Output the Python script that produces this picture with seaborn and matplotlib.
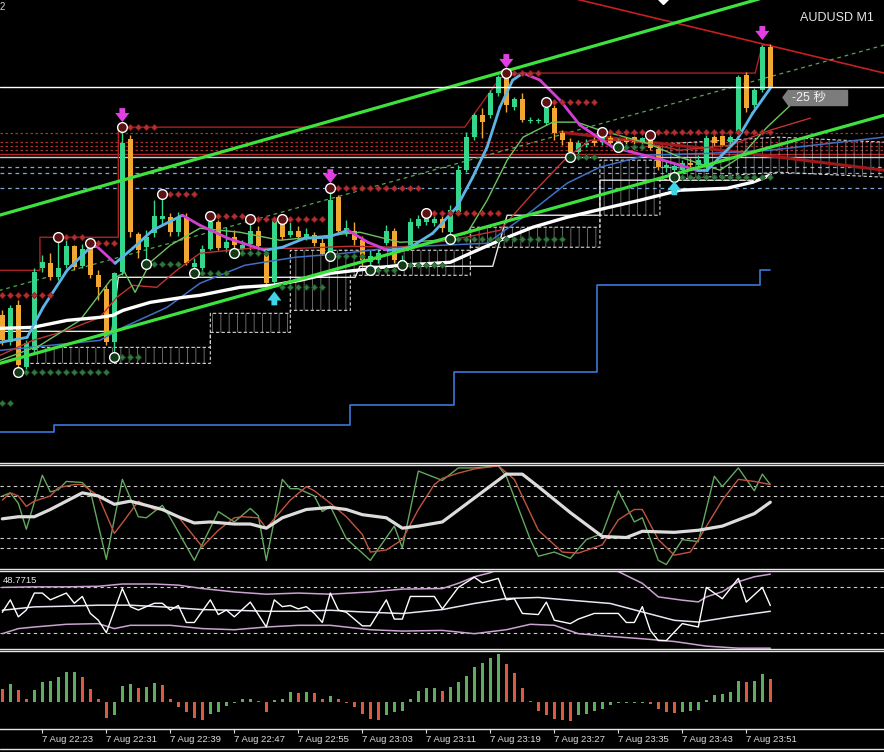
import numpy as np
import matplotlib
matplotlib.use("Agg")
import matplotlib.pyplot as plt
from matplotlib.patches import Rectangle, Polygon
from matplotlib.lines import Line2D
import seaborn as sns

# prices are kept in points (1e-5) above this base
PRICE_BASE = 0.92
POINT = 1e-5

# bars: minutes after 7 Aug 22:15
bar_minute = list(range(3, 100))

open_pts = [147, 120, 157, 95, 112, 194, 199, 185, 197, 216,
            196, 215, 187, 173, 120, 190, 323, 228, 215, 229,
            243, 245, 230, 245, 195, 194, 213, 240, 214, 225,
            213, 218, 231, 209, 180, 240, 227, 231, 225, 227,
            219, 209, 265, 229, 231, 222, 200, 202, 219, 231,
            199, 215, 236, 240, 239, 243, 230, 250, 292, 325,
            347, 347, 369, 385, 355, 363, 341, 341, 339, 354,
            329, 320, 310, 317, 321, 320, 324, 317, 322, 325,
            319, 322, 313, 294, 292, 292, 299, 297, 295, 325,
            326, 320, 329, 387, 357, 372, 415]
high_pts = [152, 157, 162, 122, 194, 207, 209, 225, 222, 217,
            218, 219, 192, 177, 190, 335, 327, 230, 232, 262,
            268, 249, 250, 249, 204, 217, 246, 242, 235, 232,
            222, 243, 236, 214, 242, 243, 240, 236, 234, 230,
            224, 274, 267, 242, 240, 226, 212, 212, 237, 234,
            207, 244, 247, 249, 247, 247, 257, 297, 330, 349,
            354, 372, 387, 389, 365, 369, 345, 344, 360, 357,
            332, 324, 322, 323, 325, 330, 327, 324, 325, 326,
            325, 327, 317, 302, 299, 302, 304, 307, 327, 332,
            332, 330, 387, 390, 374, 417, 418]
low_pts = [117, 117, 90, 92, 110, 190, 182, 182, 194, 192,
           194, 184, 162, 117, 105, 187, 225, 204, 198, 225,
           237, 226, 226, 197, 189, 190, 212, 212, 210, 209,
           210, 212, 212, 177, 175, 222, 225, 222, 222, 216,
           207, 206, 227, 226, 217, 197, 192, 199, 217, 199,
           197, 212, 234, 237, 236, 230, 223, 248, 290, 322,
           324, 344, 366, 350, 352, 340, 339, 339, 337, 322,
           317, 305, 308, 315, 316, 317, 316, 315, 317, 318,
           317, 312, 292, 290, 285, 290, 294, 295, 292, 316,
           316, 317, 327, 350, 354, 370, 374]
close_pts = [122, 154, 97, 119, 190, 200, 185, 194, 216, 195,
             213, 187, 175, 120, 189, 319, 230, 212, 225, 246,
             246, 230, 245, 199, 199, 213, 240, 214, 220, 217,
             217, 231, 216, 179, 242, 225, 231, 225, 228, 219,
             208, 262, 231, 234, 222, 202, 206, 209, 231, 202,
             202, 240, 243, 244, 243, 234, 252, 292, 325, 347,
             340, 369, 385, 357, 363, 342, 341, 342, 354, 329,
             322, 310, 319, 319, 319, 324, 319, 321, 320, 320,
             324, 314, 295, 297, 296, 299, 297, 302, 324, 319,
             317, 325, 385, 354, 372, 415, 375]

# fractals, arrows and support / resistance dot rows
high_fractal_m = [10, 14, 18, 23, 29, 34, 38, 44, 56, 66, 71, 78, 84]
low_fractal_m = [5, 17, 21, 27, 32, 44, 49, 53, 59, 74, 80, 87]
sell_arrow_m = [18, 44, 66, 98]
buy_arrow_m = [37, 87]
red_row_start = [3, 11, 15, 19, 24, 30, 35, 39, 45, 57, 67, 72, 79]
red_row_end = [9, 13, 17, 22, 27, 33, 37, 43, 55, 65, 70, 77, 99]
red_row_level = [167, 225, 219, 335, 268, 246, 243, 243, 274, 249, 389, 360, 330]
green_row_start = [3, 6, 18, 22, 28, 33, 38, 45, 50, 54, 60, 75, 81, 88]
green_row_end = [4, 16, 20, 25, 31, 36, 43, 48, 52, 58, 73, 77, 83, 99]
green_row_level = [59, 90, 105, 198, 189, 209, 175, 206, 192, 197, 223, 305, 315, 285]

# moving averages (minute, points)
fast_ma_m = [2.7, 6.1, 8.1, 11.1, 14, 14.8, 17.1, 19.3, 21.8, 25.5, 27.7, 31.2, 35.8,
             38, 40.8, 43.7, 46.2, 48.7, 51.2, 52.7, 54, 56.8, 59.8, 61.8, 63.6, 65.2,
             66.8, 68.1, 70.2, 72.7, 75.2, 79.3, 85.6, 89.8, 91.1, 94.8, 96.8, 99.1]
fast_ma = [120, 125, 155, 192, 215, 216, 199, 214, 232, 247, 237, 224, 212,
           215, 224, 225, 232, 220, 212, 213, 215, 229, 255, 285, 315, 355,
           382, 389, 382, 362, 337, 315, 302, 292, 292, 322, 349, 375]
slow_ma_m = [2.7, 6.8, 11.1, 15.2, 16.8, 18.1, 21.5, 25.6, 27.7, 32.7, 36.8, 40.2, 44,
             52.7, 59, 61.8, 65.2, 69.3, 73.6, 77.3, 82.7, 87.7, 93.6, 96.8, 99]
slow_ma = [134, 135, 142, 145, 147, 152, 160, 165, 167, 175, 177, 182, 189,
           197, 200, 210, 222, 235, 245, 252, 262, 272, 274, 280, 287]
jaw_m = [2.7, 15.2, 18.1, 23.6, 27.7, 33.3, 39.6, 45.8, 52.1, 63.6, 69.3, 73.6, 77.7,
         83.6, 91.8, 99, 113.2]
jaw = [112, 122, 135, 155, 179, 197, 205, 209, 215, 219, 252, 279, 295, 307, 309, 312, 325]
teeth_m = [2.7, 6.8, 11.1, 15.2, 17.3, 19.3, 22.3, 24.8, 27.7, 34, 40.2, 46.5, 52.7, 59,
           65.2, 69.3, 73.6, 76.5, 81.5, 87.7, 94, 99, 104]
teeth = [107, 122, 132, 145, 165, 177, 175, 192, 209, 214, 214, 216, 215, 222,
         232, 269, 305, 322, 322, 312, 317, 332, 344]
lips_m = [2.7, 7.7, 12.7, 16.5, 18.3, 19.6, 21.5, 24, 27.7, 32.7, 37.7, 44, 47.7, 52.7,
          57.7, 61.1, 63.6, 66.1, 68.1, 71.8, 74.8, 77.7, 83.6, 87.7, 92.7, 95.2, 98.6, 101.8]
lips = [102, 117, 142, 182, 190, 170, 200, 217, 234, 230, 222, 227, 230, 220,
        222, 229, 262, 302, 325, 340, 340, 332, 319, 305, 292, 305, 335, 359]
trend_red_m = [72.7, 96.1, 113.2]
trend_red = [330, 309, 292]

# step lines and cloud
kijun_m = [2.7, 16.7, 17.5, 47.1, 47.7, 64.3, 66.1, 77.7, 77.7, 97.1]
kijun = [131, 131, 185, 185, 196, 196, 247, 247, 282, 282]
cloud_m = [6.5, 29, 29, 39, 39, 46.5, 46.5, 61.5, 61.5, 77.7, 77.7, 85.2, 85.2, 100, 113.2]
cloud_a = [115, 115, 149, 149, 212, 212, 212, 212, 235, 235, 302, 302, 318, 325, 320]
cloud_b = [99, 99, 130, 130, 152, 152, 187, 187, 215, 215, 247, 247, 282, 290, 285]
low_band_m = [2.7, 9.5, 9.5, 46.5, 46.5, 59.5, 59.5, 77.3, 77.3, 97.7, 97.7, 99]
low_band = [30, 30, 37, 37, 57, 57, 90, 90, 177, 177, 192, 192]
high_band_m = [2.7, 7.7, 7.7, 17.5, 17.5, 60.8, 65.2, 67.7, 97.1, 98, 99]
high_band = [192, 192, 225, 225, 335, 335, 384, 389, 389, 417, 417]

# straight lines
line_m = [0, 120]
channel_upper = [241, 514]
channel_lower = [93, 362]
dashed_diag = [166, 432]
red_diag_m = [70, 120]
red_diag = [472, 376]
red_levels = [329, 320, 316, 312]
red_solid_level = 308
grey_solid_level = 305
blue_levels = [295, 289, 274]

# stochastic panel
stoch_k_m = [3, 4, 5, 6, 8, 9, 10, 11, 13, 14, 16, 18, 20, 21, 23, 24, 27, 30, 32, 34, 35,
             36, 38, 39, 40, 42, 43, 44, 46, 49, 52, 53, 55, 58, 60, 62, 65, 66, 69, 70,
             72, 74, 76, 78, 80, 82, 83, 85, 86, 88, 90, 92, 93, 95, 97, 98, 99]
stoch_k = [70, 73, 63, 38, 90, 74, 76, 84, 83, 75, 9, 86, 50, 49, 61, 49, 8, 55, 45, 58, 51,
           8, 86, 77, 77, 70, 55, 60, 29, 8, 41, 20, 94, 85, 97, 97, 99, 89, 28, 12,
           16, 10, 28, 34, 75, 45, 49, 8, 4, 28, 26, 89, 79, 97, 75, 91, 81]
stoch_d_m = [3, 4, 5, 6, 7, 9, 10, 12, 13, 15, 17, 18, 20, 22, 23, 25, 28, 30, 32, 33, 35,
             36, 39, 41, 42, 44, 46, 48, 49, 51, 53, 55, 57, 58, 60, 62, 65, 67, 70, 73,
             75, 78, 80, 82, 83, 85, 87, 89, 90, 93, 95, 97, 99]
stoch_d = [66, 73, 70, 60, 65, 70, 78, 81, 81, 70, 34, 44, 65, 57, 57, 50, 21, 37, 49, 50, 49,
           39, 66, 79, 75, 63, 50, 33, 16, 18, 28, 57, 81, 87, 92, 96, 99, 86, 37, 16,
           15, 23, 47, 57, 57, 28, 13, 16, 28, 66, 86, 84, 81]
stoch_slow_m = [3, 5, 7, 9, 11, 13, 15, 17, 19, 20, 23, 25, 27, 29, 32, 34, 36, 38, 41, 44,
                46, 48, 51, 53, 55, 58, 62, 66, 68, 70, 74, 78, 81, 83, 87, 90, 93, 97, 99]
stoch_slow = [48, 50, 50, 57, 65, 73, 70, 62, 65, 63, 57, 50, 44, 45, 43, 43, 39, 49, 57, 59,
              57, 52, 49, 39, 41, 45, 68, 91, 91, 79, 54, 31, 30, 36, 35, 37, 41, 53, 64]
stoch_levels = [80, 70, 30, 20]

# RSI panel
rsi_m = [3, 4, 5, 6, 7, 8, 9, 11, 12, 13, 14, 15, 16, 18, 19, 20, 22, 23, 24, 25, 26, 27,
         29, 30, 31, 32, 34, 36, 37, 38, 39, 40, 41, 42, 43, 44, 45, 46, 48, 49, 51, 52,
         53, 54, 57, 58, 60, 62, 63, 65, 66, 67, 68, 70, 71, 72, 74, 75, 77, 80, 81, 82,
         83, 84, 85, 86, 88, 90, 91, 93, 95, 96, 98, 99]
rsi = [48, 59, 44, 50, 65, 65, 59, 65, 56, 62, 47, 41, 30, 69, 53, 50, 56, 56, 50, 54, 39, 39,
       59, 46, 50, 44, 57, 35, 59, 53, 54, 51, 53, 47, 39, 65, 50, 48, 36, 36, 59, 42,
       42, 62, 62, 51, 70, 79, 74, 78, 59, 60, 47, 46, 57, 41, 38, 42, 47, 47, 39, 39,
       53, 32, 23, 23, 38, 35, 70, 60, 78, 57, 70, 54]
band_up_m = [3, 7, 11, 15, 18, 22, 25, 28, 32, 36, 40, 44, 49, 53, 58, 60, 62, 64, 65, 70,
             75, 80, 83, 85, 88, 90, 91, 93, 95, 97, 99]
band_up = [70, 70.5, 70.5, 71, 73, 73, 72, 69, 66, 64, 65, 64, 66, 68.5, 69, 73.6, 79.4, 83,
           86, 90, 90, 84, 73.6, 61.6, 58.7, 57.2, 61.6, 66.2, 75, 79.4, 81.7]
band_mid_m = [3, 7, 11, 15, 19, 23, 28, 32, 36, 40, 44, 48, 53, 58, 62, 66, 70, 74, 79, 83,
              87, 90, 94, 99]
band_mid = [49.8, 52.8, 53.4, 54.3, 54.3, 52.8, 50.4, 49.8, 48.9, 48.9, 49.8, 48.3, 46.9,
            50.4, 55.8, 60.2, 61.1, 58.7, 55.8, 48.3, 40.9, 39.4, 43.9, 48.9]
band_low_m = [3, 5, 7, 11, 15, 17, 19, 24, 28, 32, 36, 40, 44, 49, 53, 58, 62, 66, 69, 72,
              75, 79, 83, 87, 91, 95, 99]
band_low = [29.1, 33.6, 35, 37.4, 38, 33.6, 36.5, 36.5, 33.6, 32.6, 35, 36.5, 36.5, 32.6,
            31.4, 32, 29.1, 32.6, 37.4, 36.5, 29.1, 26.7, 24.6, 22.2, 18.1, 16.3, 16.3]
rsi_levels = [70, 30]

# oscillator histogram (one value per bar)
hist_before = 13.0
hist = [12.4, 17.7, 11.7, 2.4, 11.7, 20, 20.7, 25, 29, 29.7,
        25, 13, 2.4, -15.6, -13.3, 15.7, 17.7, 14, 14.4, 18.4,
        16.7, 2.4, -5, -10, -15.6, -17.7, -12.3, -10, -4.3, -0.9,
        3.3, 3.3, 0.9, -10, 1.7, 3.3, 9.3, 9.0, 9.3, 9.0,
        3.3, 5.7, 2.4, -0.9, -5, -12.3, -16.7, -17.7, -13.3, -10,
        -9, 2.4, 10.7, 13.3, 13.3, 10.7, 14.4, 19.3, 25.7, 34.3,
        38.3, 43.3, 47.3, 37.7, 28.3, 13.3, 0.9, -9, -13.3, -17.3,
        -18.3, -19, -13.3, -11.7, -9, -6.7, -2.7, -0.9, -0.9, -0.9,
        -0.9, -2, -6.7, -10, -11, -10, -9, -8.3, 1.7, 6.7,
        7.7, 10, 20.7, 19.3, 20.7, 27.7, 22.7]

tick_m = [0, 8, 16, 24, 32, 40, 48, 56, 64, 72, 80, 88, 96]
tick_labels = ['7 Aug 22:15', '7 Aug 22:23', '7 Aug 22:31', '7 Aug 22:39', '7 Aug 22:47',
               '7 Aug 22:55', '7 Aug 23:03', '7 Aug 23:11', '7 Aug 23:19', '7 Aug 23:27',
               '7 Aug 23:35', '7 Aug 23:43', '7 Aug 23:51']


def price(v):
    return PRICE_BASE + np.asarray(v, dtype=float) * POINT


sns.set_theme(style="dark", rc={"axes.facecolor": "black", "figure.facecolor": "black"})
plt.rcParams['font.family'] = ['Liberation Sans', 'DejaVu Sans', 'Noto Sans CJK JP']
plt.rcParams['hatch.linewidth'] = 0.7

W, H = 884, 752
fig = plt.figure(figsize=(W / 100, H / 100), dpi=100, facecolor='black')


def panel(top, bottom):
    ax = fig.add_axes([0, (H - bottom) / H, 1, (bottom - top) / H])
    ax.set_facecolor('black')
    ax.set_xlim(2.71, 113.21)
    ax.set_xticks([])
    ax.set_yticks([])
    ax.grid(False)
    for side in ['left', 'right']:
        ax.spines[side].set_visible(False)
    for side in ['top', 'bottom']:
        ax.spines[side].set_color('#e6e6e6')
        ax.spines[side].set_linewidth(1.0)
    return ax


ax = panel(0, 462.5)
ax.spines['top'].set_visible(False)
ax_sto = panel(464.5, 569)
ax_rsi = panel(571, 648.5)
ax_hist = panel(650.5, 728.5)

# ---------------- main chart ----------------
ax.set_ylim(price(0), price(462))

for lv in red_levels:
    ax.axhline(price(lv), color='#a83030', lw=0.9, ls=(0, (2, 2)), zorder=1)
ax.axhline(price(red_solid_level), color='#b02828', lw=1.0, zorder=1)
ax.axhline(price(grey_solid_level), color='#c8c8dc', lw=1.0, zorder=1)
for lv in blue_levels:
    ax.axhline(price(lv), color='#7fa8d8', lw=0.9, ls=(0, (3, 3)), zorder=1)

# cloud
ax.fill_between(cloud_m, price(cloud_a), price(cloud_b), facecolor='none',
                edgecolor='#cfcfcf', hatch='||', linewidth=0, alpha=0.5, zorder=1)
ax.plot(cloud_m, price(cloud_a), color='#d8d8d8', lw=0.8, ls=(0, (3, 2)), zorder=2)
ax.plot(cloud_m, price(cloud_b), color='#d8d8d8', lw=0.8, ls=(0, (3, 2)), zorder=2)

ax.plot(low_band_m, price(low_band), color='#3c78d8', lw=1.2, zorder=2)
ax.plot(high_band_m, price(high_band), color='#b02020', lw=1.0, zorder=2)
ax.plot(kijun_m, price(kijun), color='#e8e8e8', lw=1.0, zorder=2)
ax.plot(red_diag_m, price(red_diag), color='#c42020', lw=1.2, zorder=2)
ax.plot(line_m, price(dashed_diag), color='#4faa4f', lw=0.9, ls=(0, (3, 3)), zorder=2)
ax.plot(trend_red_m, price(trend_red), color='#a01818', lw=2.2, zorder=2)

# candles
o, h, l, c = price(open_pts), price(high_pts), price(low_pts), price(close_pts)
up = c >= o
col = np.where(up, '#34d68c', '#f2a733')
ax.vlines(bar_minute, l, h, colors=col, lw=1.0, zorder=3)
body_lo = np.minimum(o, c)
body_h = np.maximum(np.abs(c - o), 1.5 * POINT)
ax.bar(bar_minute, body_h, bottom=body_lo, width=0.62, color=col, linewidth=0, zorder=3)

# indicator lines on top of candles
sns.lineplot(x=jaw_m, y=price(jaw), ax=ax, color='#3f70c8', linewidth=1.1,
             estimator=None, sort=False, zorder=4)
sns.lineplot(x=teeth_m, y=price(teeth), ax=ax, color='#c03232', linewidth=1.0,
             estimator=None, sort=False, zorder=4)
sns.lineplot(x=lips_m, y=price(lips), ax=ax, color='#6cc460', linewidth=1.0,
             estimator=None, sort=False, zorder=4)
sns.lineplot(x=slow_ma_m, y=price(slow_ma), ax=ax, color='white', linewidth=2.4,
             estimator=None, sort=False, zorder=5)
fm, fv = np.array(fast_ma_m), price(fast_ma)
for i in range(len(fm) - 1):
    seg_col = '#d23fd2' if fv[i + 1] < fv[i] else '#5db4e6'
    ax.plot(fm[i:i + 2], fv[i:i + 2], color=seg_col, lw=2.0, solid_capstyle='round', zorder=5)
ax.plot(line_m, price(channel_upper), color='#3ee23e', lw=2.3, zorder=6)
ax.plot(line_m, price(channel_lower), color='#3ee23e', lw=2.3, zorder=6)

# current price line
ax.axhline(price(close_pts[-1]), color='white', lw=1.0, zorder=6)

# support / resistance dots
for s, e, lv in zip(red_row_start, red_row_end, red_row_level):
    xs = np.arange(s, e + 1)
    ax.plot(xs, np.full(len(xs), price(lv)), ls='none', marker='D', ms=3.2,
            color='#b23030', mec='#7a1a1a', mew=0.5, zorder=6)
for s, e, lv in zip(green_row_start, green_row_end, green_row_level):
    xs = np.arange(s, e + 1)
    ax.plot(xs, np.full(len(xs), price(lv)), ls='none', marker='D', ms=3.2,
            color='#2f7a3c', mec='#1c4a24', mew=0.5, zorder=6)

# fractal circles
hi_idx = [m - 3 for m in high_fractal_m]
lo_idx = [m - 3 for m in low_fractal_m]
ax.plot(high_fractal_m, h[hi_idx], ls='none', marker='o', ms=7, mfc='#5a1212',
        mec='white', mew=1.0, zorder=7)
ax.plot(low_fractal_m, l[lo_idx], ls='none', marker='o', ms=7, mfc='#123a16',
        mec='white', mew=1.0, zorder=7)

# signal arrows
arrow_style = 'simple,head_width=0.85,head_length=0.55,tail_width=0.35'
for m in sell_arrow_m:
    hv = h[m - 3]
    ax.annotate('', xy=(m, hv + 5 * POINT), xytext=(m, hv + 19 * POINT),
                arrowprops=dict(arrowstyle=arrow_style, color='#e040e0', lw=0,
                                shrinkA=0, shrinkB=0), zorder=8)
for m in buy_arrow_m:
    lv = l[m - 3]
    ax.annotate('', xy=(m, lv - 4 * POINT), xytext=(m, lv - 18 * POINT),
                arrowprops=dict(arrowstyle=arrow_style, color='#40d4e8', lw=0,
                                shrinkA=0, shrinkB=0), zorder=8)

ax.plot([85.6], [price(464)], ls='none', marker='D', ms=6, color='white', zorder=8)

ax.text(800 / W, 1 - 18 / 462.5, 'AUDUSD M1', transform=ax.transAxes, ha='left',
        va='center', fontsize=9, color='#e6e6e6')
ax.text(0.0, 1 - 7 / 462.5, '2', transform=ax.transAxes, ha='left', va='center',
        fontsize=7, color='#d8d8d8')
ax.add_patch(Rectangle((788 / W, 1 - 105 / 462.5), 59 / W, 15 / 462.5,
                       transform=ax.transAxes, color='#7c7c7c', zorder=9))
ax.add_patch(Polygon([(783 / W, 1 - 97.5 / 462.5), (788.5 / W, 1 - 90 / 462.5),
                      (788.5 / W, 1 - 105 / 462.5)], closed=True,
                     transform=ax.transAxes, color='#7c7c7c', zorder=9))
ax.text(792 / W, 1 - 97.5 / 462.5, '-25 秒', transform=ax.transAxes, ha='left',
        va='center', fontsize=9, color='#f2f2f2', zorder=10,
        family=['Liberation Sans', 'Noto Sans CJK JP'])

# ---------------- stochastic ----------------
ax_sto.set_ylim(-0.3, 100.3)
for lv in stoch_levels:
    ax_sto.axhline(lv, color='#cfcfcf', lw=0.8, ls=(0, (3, 3)))
sns.lineplot(x=stoch_k_m, y=stoch_k, ax=ax_sto, color='#62a85e', linewidth=1.0,
             estimator=None, sort=False)
sns.lineplot(x=stoch_d_m, y=stoch_d, ax=ax_sto, color='#c2543e', linewidth=1.0,
             estimator=None, sort=False)
sns.lineplot(x=stoch_slow_m, y=stoch_slow, ax=ax_sto, color='#dcdcdc', linewidth=2.3,
             estimator=None, sort=False)

# ---------------- RSI ----------------
ax_rsi.set_ylim(16.0, 84.5)
for lv in rsi_levels:
    ax_rsi.axhline(lv, color='#cfcfcf', lw=0.8, ls=(0, (3, 3)))
sns.lineplot(x=band_up_m, y=band_up, ax=ax_rsi, color='#c9a2cf', linewidth=1.1,
             estimator=None, sort=False)
sns.lineplot(x=band_low_m, y=band_low, ax=ax_rsi, color='#c9a2cf', linewidth=1.1,
             estimator=None, sort=False)
sns.lineplot(x=band_mid_m, y=band_mid, ax=ax_rsi, color='#ece4f2', linewidth=1.1,
             estimator=None, sort=False)
sns.lineplot(x=rsi_m, y=rsi, ax=ax_rsi, color='white', linewidth=1.0,
             estimator=None, sort=False)
ax_rsi.text(3 / W, 0.88, '48.7715', transform=ax_rsi.transAxes, ha='left', va='center',
            fontsize=6.8, color='#e6e6e6')

# ---------------- histogram ----------------
ax_hist.set_ylim(-26.3, 50.7)
hv = np.array(hist)
rising = np.diff(hv, prepend=hist_before) >= 0
ax_hist.bar(bar_minute, hv, width=0.45, color=np.where(rising, '#5fae5f', '#db5a40'),
            linewidth=0)
ax_hist.set_xticks(tick_m)
ax_hist.set_xticklabels(tick_labels, ha='left', fontsize=6.8, color='#dcdcdc')
ax_hist.tick_params(axis='x', bottom=True, labelbottom=True, length=3, width=0.8,
                    color='#dcdcdc', pad=2)

for a in (ax, ax_sto, ax_rsi, ax_hist):
    a.set_xlim(2.71, 113.21)
    a.set_xlabel('')
    a.set_ylabel('')

fig.add_artist(Line2D([0, 1], [3 / H, 3 / H], transform=fig.transFigure, color='#e6e6e6', lw=1))

fig.savefig('out.png', dpi=100, facecolor='black')
